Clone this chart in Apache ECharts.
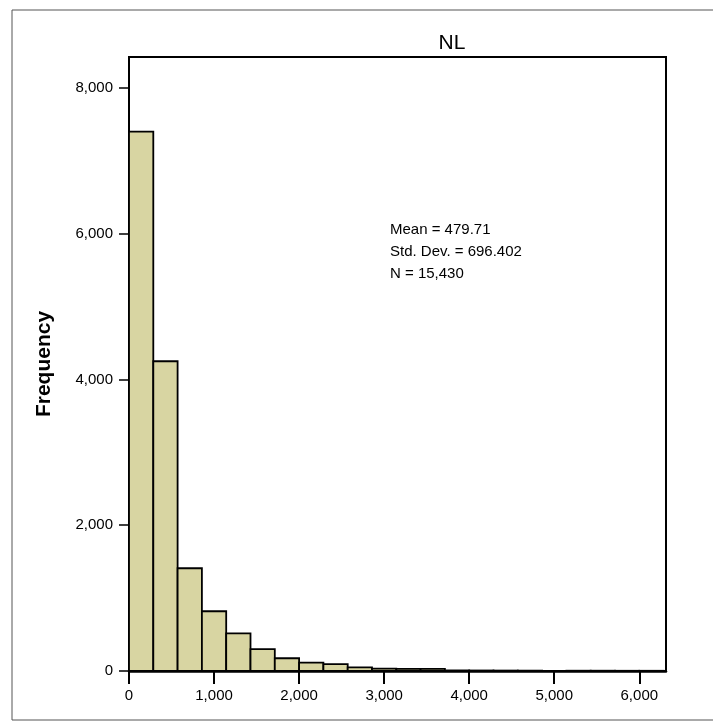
<!DOCTYPE html>
<html>
<head>
<meta charset="utf-8">
<script src="https://cdn.jsdelivr.net/npm/echarts@6/dist/echarts.min.js"></script>
<style>
html,body{margin:0;padding:0;background:#fff;}
#chart{width:713px;height:724px;}
</style>
</head>
<body>
<div id="chart"></div>
<script>
// Histogram data
const chartTitle = "NL";
const binStart = 0;
const binWidth = 2000 / 7;
const counts = [7400, 4250, 1410, 820, 515, 300, 175, 115, 95, 50, 32, 30, 28, 8, 7, 6, 5, 0, 4, 4, 3, 3];
const statsLines = ["Mean = 479.71", "Std. Dev. = 696.402", "N = 15,430"];
const yTicks = [0, 2000, 4000, 6000, 8000];
const xTicks = [0, 1000, 2000, 3000, 4000, 5000, 6000];

const fmt = v => v.toLocaleString('en-US');
const bins = counts.map((c, i) => [binStart + i * binWidth, binStart + (i + 1) * binWidth, c]);

const chart = echarts.init(document.getElementById('chart'), null, {renderer: 'canvas'});
const font = "'Liberation Sans', Arial, sans-serif";

chart.setOption({
  backgroundColor: '#fff',
  animation: false,
  title: {
    text: chartTitle,
    left: 447, top: 28,
    textAlign: 'center',
    textStyle: {fontFamily: font, fontSize: 21, fontWeight: 'normal', color: '#000'}
  },
  grid: {
    left: 129, right: 47, top: 57, bottom: 53,
    show: true, borderColor: '#000', borderWidth: 2, backgroundColor: '#fff'
  },
  xAxis: {
    type: 'value', min: 0, max: 6314, interval: 1000,
    axisLine: {show: true, onZero: false, lineStyle: {color: '#000', width: 2.5}},
    axisTick: {show: true, length: 13, lineStyle: {color: '#000', width: 2}},
    axisLabel: {
      showMaxLabel: false, margin: 17,
      fontFamily: font, fontSize: 15, color: '#000',
      formatter: v => xTicks.includes(v) ? fmt(v) : ''
    },
    splitLine: {show: false}
  },
  yAxis: {
    type: 'value', min: 0, max: 8425, interval: 2000,
    name: 'Frequency', nameLocation: 'middle', nameGap: 74, nameRotate: 90,
    nameTextStyle: {fontFamily: font, fontSize: 21, fontWeight: 'bold', color: '#000'},
    axisLine: {show: true, lineStyle: {color: '#000', width: 2}},
    axisTick: {show: true, length: 10, lineStyle: {color: '#000', width: 1.5}},
    axisLabel: {
      showMaxLabel: false, margin: 16,
      fontFamily: font, fontSize: 15, color: '#000',
      formatter: v => yTicks.includes(v) ? fmt(v) : ''
    },
    splitLine: {show: false}
  },
  series: [{
    type: 'custom',
    data: bins,
    encode: {x: [0, 1], y: 2},
    renderItem: function (params, api) {
      const p0 = api.coord([api.value(0), 0]);
      const p1 = api.coord([api.value(1), api.value(2)]);
      return {
        type: 'rect',
        shape: {x: p0[0], y: p1[1], width: p1[0] - p0[0], height: p0[1] - p1[1]},
        style: {fill: '#d8d5a2', stroke: '#000', lineWidth: 1.8}
      };
    }
  }],
  graphic: [
    {
      type: 'rect', silent: true, z: -10,
      shape: {x: 12, y: 10, width: 760, height: 710},
      style: {fill: 'none', stroke: '#555', lineWidth: 1}
    },
    {
      type: 'text', left: 390, top: 219,
      style: {
        text: statsLines.join('\n'), lineHeight: 22,
        font: "15px 'Liberation Sans', Arial, sans-serif", fill: '#000'
      }
    }
  ]
});
</script>
</body>
</html>
